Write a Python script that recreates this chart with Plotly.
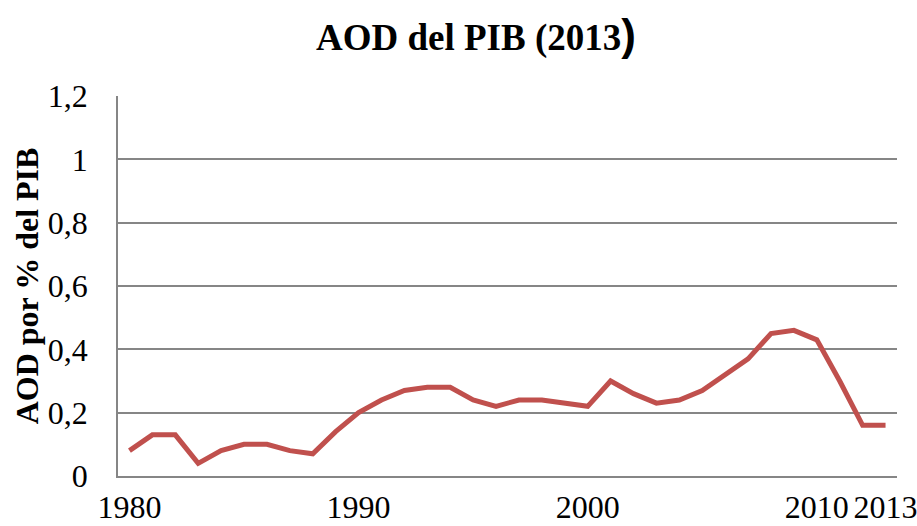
import plotly.graph_objects as go

years = list(range(1980, 2014))
aod = [0.08, 0.13, 0.13, 0.04, 0.08, 0.10, 0.10, 0.08, 0.07, 0.14,
       0.20, 0.24, 0.27, 0.28, 0.28, 0.24, 0.22, 0.24, 0.24, 0.23,
       0.22, 0.30, 0.26, 0.23, 0.24, 0.27, 0.32, 0.37, 0.45, 0.46,
       0.43, 0.30, 0.16, 0.16]

x_tickvals = [1980, 1990, 2000, 2010, 2013]
x_ticktext = ["1980", "1990", "2000", "2010", "2013"]
y_tickvals = [0, 0.2, 0.4, 0.6, 0.8, 1.0, 1.2]
y_ticktext = ["0", "0,2", "0,4", "0,6", "0,8", "1", "1,2"]

serif = "Liberation Serif, Times New Roman, serif"

fig = go.Figure()
fig.add_trace(go.Scatter(
    x=years, y=aod, mode="lines",
    line=dict(color="#C0504D", width=5),
    showlegend=False, hoverinfo="x+y",
))

fig.update_layout(
    width=917, height=526,
    margin=dict(l=118, r=20, t=96, b=50, autoexpand=False),
    paper_bgcolor="white", plot_bgcolor="white",
    font=dict(family=serif, color="black", size=32),
    title=dict(
        text="<b>AOD del PIB (2013</b><span style='font-family:Liberation Sans, Arial, sans-serif;font-size:44px'><b>)</b></span>",
        x=0.519, xanchor="center", y=0.93, yanchor="middle",
        font=dict(family=serif, size=37, color="black"),
    ),
    xaxis=dict(
        range=[1979.5, 2013.5], automargin=False,
        tickvals=x_tickvals, ticktext=x_ticktext,
        showgrid=False, zeroline=False,
        showline=True, linecolor="#868686", linewidth=1.5,
        ticks="", ticklabelstandoff=2, ticklabeloverflow="allow",
        tickfont=dict(family=serif, size=32, color="black"),
    ),
    yaxis=dict(
        range=[0, 1.2], automargin=False,
        tickvals=y_tickvals, ticktext=y_ticktext,
        showgrid=True, gridcolor="#868686", gridwidth=1.5,
        zeroline=False,
        showline=True, linecolor="#868686", linewidth=1.5,
        ticks="", ticklabelstandoff=22,
        tickfont=dict(family=serif, size=32, color="black"),
        title=dict(text="<b>AOD por % del PIB</b>", standoff=0,
                   font=dict(family=serif, size=32, color="black")),
    ),
)

fig.write_html("out.html", config={"displayModeBar": False},
               post_script="document.body.style.margin='0';document.body.style.overflow='hidden';")
